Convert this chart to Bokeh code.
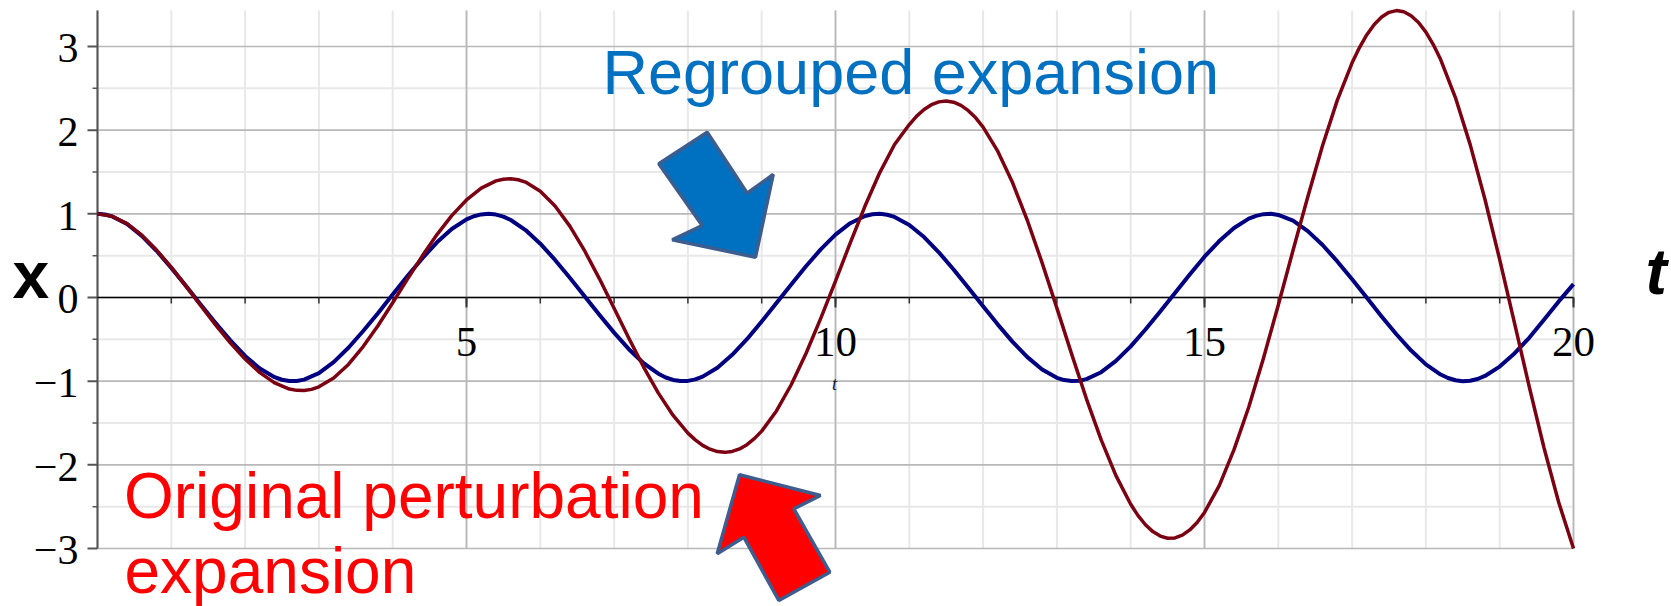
from bokeh.plotting import figure
from bokeh.models import Range1d
from bokeh.embed import file_html
from bokeh.resources import INLINE
from bokeh.core.properties import value

# ---------------- data ----------------
t_regrouped = [0.0, 0.1, 0.2, 0.4, 0.6, 0.8, 1.0, 1.2, 1.4, 1.6, 1.8,
               2.0, 2.2, 2.4, 2.5, 2.6, 2.7, 2.8, 3.0, 3.2, 3.4, 3.6, 3.8,
               4.0, 4.2, 4.4, 4.6, 4.8, 5.0, 5.1, 5.2, 5.3, 5.4, 5.5, 5.6, 5.8,
               6.0, 6.2, 6.4, 6.6, 6.8, 7.0, 7.2, 7.4, 7.6, 7.7, 7.8, 7.9,
               8.0, 8.1, 8.2, 8.4, 8.6, 8.8, 9.0, 9.2, 9.4, 9.6, 9.8,
               10.0, 10.2, 10.4, 10.5, 10.6, 10.7, 10.8, 11.0, 11.2, 11.4, 11.6, 11.8,
               12.0, 12.2, 12.4, 12.6, 12.8, 13.0, 13.1, 13.2, 13.3, 13.4, 13.6, 13.8,
               14.0, 14.2, 14.4, 14.6, 14.8, 15.0, 15.2, 15.4, 15.6, 15.7, 15.8, 15.9,
               16.0, 16.2, 16.4, 16.6, 16.8, 17.0, 17.2, 17.4, 17.6, 17.8,
               18.0, 18.2, 18.3, 18.4, 18.5, 18.6, 18.7, 18.8, 19.0, 19.2, 19.4, 19.6, 19.8,
               20.0]
x_regrouped = [1.000, 0.992, 0.969, 0.878, 0.737, 0.558, 0.354, 0.136, -0.086, -0.305, -0.513,
               -0.699, -0.849, -0.953, -0.983, -0.998, -0.998, -0.982, -0.904, -0.773, -0.601, -0.401, -0.188,
               0.035, 0.256, 0.467, 0.659, 0.819, 0.934, 0.971, 0.993, 1.000, 0.991, 0.966, 0.926, 0.806,
               0.643, 0.449, 0.237, 0.016, -0.206, -0.420, -0.618, -0.786, -0.911, -0.956, -0.985, -0.999,
               -0.997, -0.979, -0.946, -0.839, -0.685, -0.499, -0.287, -0.067, 0.156, 0.373, 0.575,
               0.751, 0.888, 0.974, 0.995, 1.000, 0.989, 0.963, 0.867, 0.722, 0.540, 0.335, 0.117,
               -0.106, -0.324, -0.530, -0.713, -0.860, -0.960, -0.987, -0.999, -0.996, -0.976, -0.893, -0.758,
               -0.584, -0.382, -0.168, 0.055, 0.275, 0.487, 0.674, 0.831, 0.942, 0.976, 0.996, 1.000,
               0.987, 0.918, 0.793, 0.627, 0.431, 0.217, -0.004, -0.226, -0.439, -0.634,
               -0.799, -0.921, -0.962, -0.989, -1.000, -0.995, -0.974, -0.938, -0.826, -0.669, -0.482, -0.267, -0.047,
               0.16]

t_original = [0.0, 0.2, 0.4, 0.6, 0.8, 1.0, 1.2, 1.4, 1.6, 1.8,
              2.0, 2.2, 2.4, 2.6, 2.7, 2.8, 2.9, 3.0, 3.2, 3.4, 3.6, 3.8,
              4.0, 4.2, 4.4, 4.6, 4.8, 5.0, 5.2, 5.4, 5.5, 5.6, 5.7, 5.8,
              6.0, 6.2, 6.4, 6.6, 6.8, 7.0, 7.2, 7.4, 7.6, 7.8,
              8.0, 8.1, 8.2, 8.3, 8.4, 8.5, 8.6, 8.7, 8.8, 8.9, 9.0, 9.2, 9.4, 9.6, 9.8,
              10.0, 10.2, 10.4, 10.6, 10.8, 11.0, 11.1, 11.2, 11.3, 11.4, 11.5, 11.6, 11.7, 11.8, 11.9,
              12.0, 12.2, 12.4, 12.6, 12.8, 13.0, 13.2, 13.4, 13.6, 13.8,
              14.0, 14.1, 14.2, 14.3, 14.4, 14.5, 14.6, 14.7, 14.8, 14.9, 15.0, 15.2, 15.4, 15.6, 15.8,
              16.0, 16.2, 16.4, 16.6, 16.8, 17.0, 17.1, 17.2, 17.3, 17.4, 17.5, 17.6, 17.7, 17.8, 17.9,
              18.0, 18.1, 18.2, 18.4, 18.6, 18.8, 19.0, 19.2, 19.4, 19.6, 19.8,
              20.0]
x_original = [1.000, 0.970, 0.883, 0.745, 0.567, 0.359, 0.133, -0.099, -0.327, -0.542,
              -0.736, -0.898, -1.020, -1.094, -1.110, -1.112, -1.098, -1.068, -0.963, -0.800, -0.587, -0.337,
              -0.063, 0.219, 0.495, 0.752, 0.979, 1.166, 1.307, 1.394, 1.414, 1.419, 1.407, 1.379,
              1.270, 1.093, 0.853, 0.559, 0.226, -0.129, -0.487, -0.831, -1.143, -1.410,
              -1.621, -1.702, -1.767, -1.813, -1.842, -1.851, -1.840, -1.810, -1.759, -1.687, -1.597, -1.356, -1.043, -0.670, -0.250,
              0.196, 0.653, 1.093, 1.493, 1.828, 2.067, 2.168, 2.247, 2.304, 2.338, 2.348, 2.334, 2.296, 2.233, 2.147,
              2.036, 1.746, 1.370, 0.920, 0.414, -0.127, -0.677, -1.211, -1.702, -2.129,
              -2.472, -2.607, -2.716, -2.798, -2.852, -2.877, -2.874, -2.841, -2.778, -2.689, -2.569, -2.249, -1.819, -1.309, -0.722,
              -0.089, 0.564, 1.205, 1.817, 2.359, 2.805, 2.987, 3.141, 3.263, 3.352, 3.408, 3.429, 3.416, 3.368, 3.287,
              3.172, 3.023, 2.844, 2.390, 1.827, 1.174, 0.453, -0.304, -1.065, -1.796, -2.45,
              -3.00]

t_major_ticks = [5, 10, 15, 20]
t_tick_labels = ["5", "10", "15", "20"]
t_minor_ticks = [1, 2, 3, 4, 5, 6, 7, 8, 9, 10, 11, 12, 13, 14, 15, 16, 17, 18, 19, 20]
t_grid_major = [0, 5, 10, 15, 20]

x_ticks = [-3, -2, -1, 0, 1, 2, 3]
x_tick_labels = ["\u22123", "\u22122", "\u22121", "0", "1", "2", "3"]
x_minor_ticks = [-2.5, -1.5, -0.5, 0.5, 1.5, 2.5]

label_regrouped = "Regrouped expansion"
label_original = ["Original perturbation", "expansion"]

# ---------------- geometry (canvas pixels) ----------------
W, H = 1671, 606
T0, T1 = 0.0, 20.0
Y0, Y1 = -3.0, 3.43
FX0, FX1 = 97.0, 1573.0     # frame left / right in px
FY0, FY1 = 10.0, 548.0      # frame top / bottom in px
SX = (FX1 - FX0) / (T1 - T0)
SY = (FY1 - FY0) / (Y1 - Y0)
K = 0.36                    # baseline correction of the svg text, in em


def dx(X):
    return T0 + (X - FX0) / SX


def dy(Y):
    return Y1 - (Y - FY0) / SY


def base(Y, size):
    """data y that puts the alphabetic baseline of a text of `size` px at canvas y = Y"""
    return dy(Y - K * size)


p = figure(width=W, height=H,
           x_range=Range1d(dx(0), dx(W)), y_range=Range1d(dy(H), dy(0)),
           x_axis_location=None, y_axis_location=None,
           toolbar_location=None, output_backend="svg",
           min_border_left=0, min_border_right=0, min_border_top=0, min_border_bottom=0,
           outline_line_color=None, background_fill_color="white", border_fill_color="white")
p.grid.visible = False

n_tm = len(t_minor_ticks)
n_xm = len(x_minor_ticks)
# minor grid
p.segment(x0=t_minor_ticks, y0=[Y0] * n_tm, x1=t_minor_ticks, y1=[Y1] * n_tm,
          line_color="#e8e8e8", line_width=2)
p.segment(x0=[T0] * n_xm, y0=x_minor_ticks, x1=[T1] * n_xm, y1=x_minor_ticks,
          line_color="#e8e8e8", line_width=2)
# major grid
p.segment(x0=t_grid_major, y0=[Y0] * len(t_grid_major), x1=t_grid_major, y1=[Y1] * len(t_grid_major),
          line_color="#b8b8b8", line_width=1.7)
p.segment(x0=[T0] * len(x_ticks), y0=x_ticks, x1=[T1] * len(x_ticks), y1=x_ticks,
          line_color="#b8b8b8", line_width=1.7)

# vertical axis (t = 0)
p.segment(x0=[T0], y0=[Y0], x1=[T0], y1=[Y1], line_color="#555555", line_width=2)
p.segment(x0=[T0] * len(x_ticks), y0=x_ticks, x1=[T0 - 10 / SX] * len(x_ticks), y1=x_ticks,
          line_color="#555555", line_width=2)
p.segment(x0=[T0] * n_xm, y0=x_minor_ticks, x1=[T0 - 5 / SX] * n_xm, y1=x_minor_ticks,
          line_color="#555555", line_width=1.5)
p.text(x=[T0 - 19 / SX] * len(x_ticks),
       y=[v - (17 - K * 42) / SY for v in x_ticks], text=x_tick_labels,
       text_font=value("Liberation Serif"), text_font_size="42px", text_color="black",
       text_align="right", text_baseline="alphabetic")

# horizontal axis (x = 0)
p.segment(x0=[T0], y0=[0], x1=[T1], y1=[0], line_color="black", line_width=1.6)
p.segment(x0=t_minor_ticks, y0=[0] * n_tm, x1=t_minor_ticks, y1=[-6 / SY] * n_tm,
          line_color="#333333", line_width=1.5)
p.segment(x0=t_major_ticks, y0=[0] * len(t_major_ticks), x1=t_major_ticks,
          y1=[-10 / SY] * len(t_major_ticks), line_color="#333333", line_width=2)
p.text(x=t_major_ticks, y=[base(356.5, 43)] * len(t_major_ticks), text=t_tick_labels,
       text_font=value("Liberation Serif"), text_font_size="43px", text_color="black",
       text_align="center", text_baseline="alphabetic")
p.text(x=[dx(834)], y=[base(390, 18)], text=["t"], text_font=value("Liberation Serif"),
       text_font_style=value("italic"), text_font_size="18px", text_color="#111133",
       text_align="center", text_baseline="alphabetic")

# curves
p.line(t_regrouped, x_regrouped, line_color="#000080", line_width=4.0, line_join="round")
p.line(t_original, x_original, line_color="#7a0012", line_width=3.5, line_join="round")

# axis names
p.text(x=[dx(12)], y=[base(298, 66)], text=["x"], text_font=value("Liberation Sans"),
       text_font_style=value("bold"), text_font_size="66px", text_color="black",
       text_align="left", text_baseline="alphabetic")
p.text(x=[dx(1645)], y=[base(295, 64)], text=["t"], text_font=value("Liberation Sans"),
       text_font_style=value("bold italic"), text_font_size="64px", text_color="black",
       text_align="left", text_baseline="alphabetic")

# annotations
p.text(x=[dx(602)], y=[base(94.3, 63)], text=[label_regrouped], text_font=value("Liberation Sans"),
       text_font_size="63px", text_color="#0070c0",
       text_align="left", text_baseline="alphabetic")
p.text(x=[dx(123.5), dx(124)], y=[base(518.3, 64), base(594, 64)], text=label_original,
       text_font=value("Liberation Sans"), text_font_size="64px", text_color="#ff0000",
       text_align="left", text_baseline="alphabetic")

blue_arrow = [(706.7, 131.7), (746.7, 192.7), (772.7, 174.0), (755.0, 256.7),
              (671.7, 239.3), (701.7, 225.0), (658.3, 163.3)]
red_arrow = [(739.0, 474.3), (820.0, 495.0), (793.3, 508.3), (829.3, 571.7),
             (778.3, 600.0), (743.3, 536.7), (716.7, 553.3)]
p.patch([dx(a) for a, b in blue_arrow], [dy(b) for a, b in blue_arrow],
        fill_color="#0070c0", line_color="#3d5d8e", line_width=3.5)
p.patch([dx(a) for a, b in red_arrow], [dy(b) for a, b in red_arrow],
        fill_color="#ff0000", line_color="#3d5d8e", line_width=3.5)

open("out.html", "w").write(file_html(p, INLINE))
